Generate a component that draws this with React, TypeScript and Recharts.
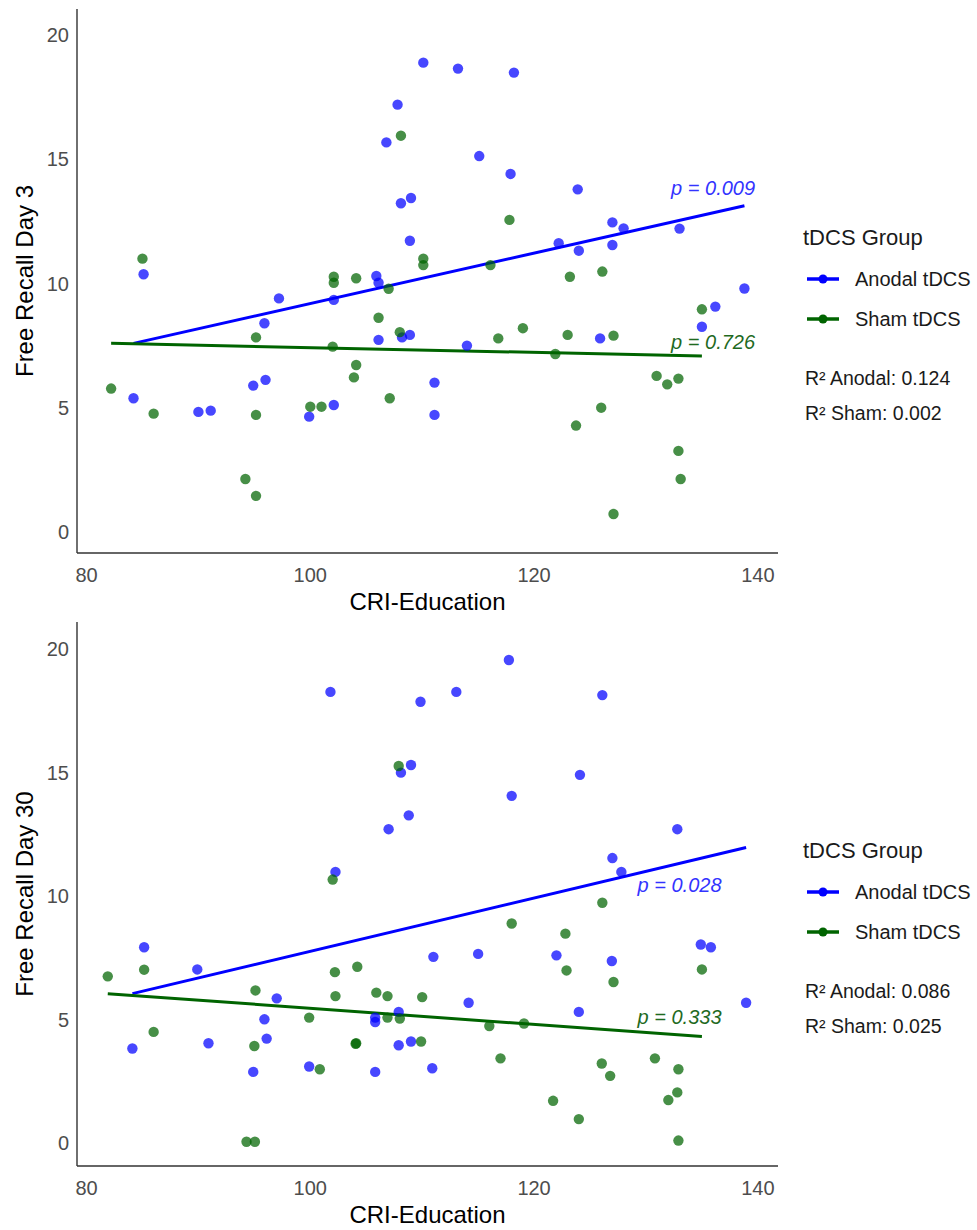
import React from 'react';
import { ComposedChart, Legend, Line, ReferenceDot, Scatter, XAxis, YAxis } from 'recharts';

// [CRI-Education, Free recall] pairs
const ANODAL_DAY3: [number, number][] = [
  [84.2, 5.38], [85.1, 10.37], [90.0, 4.83], [91.1, 4.88], [94.9, 5.89], [96.0, 6.12], [95.9, 8.4],
  [97.2, 9.4], [99.9, 4.64], [102.1, 5.11], [102.1, 9.34], [105.9, 10.3], [106.1, 10.03], [106.1, 7.73],
  [106.8, 15.68], [107.8, 17.2], [108.1, 13.23], [109.0, 13.44], [108.9, 11.72], [108.2, 7.83],
  [108.9, 7.93], [110.1, 18.89], [111.1, 6.01], [111.1, 4.71], [113.2, 18.65], [114.0, 7.5],
  [115.1, 15.13], [117.9, 14.41], [118.2, 18.49], [122.2, 11.62], [123.9, 13.79], [124.0, 11.32],
  [125.9, 7.79], [127.0, 12.46], [127.0, 11.55], [128.0, 12.22], [133.0, 12.21], [135.0, 8.26],
  [136.2, 9.07], [138.8, 9.8]
];

const SHAM_DAY3: [number, number][] = [
  [82.2, 5.77], [85.0, 11.0], [86.0, 4.76], [94.2, 2.13], [95.15, 1.45], [95.15, 4.71], [95.15, 7.83],
  [100.0, 5.04], [101.0, 5.04], [102.0, 7.46], [102.1, 10.27], [102.1, 10.03], [104.1, 10.21],
  [103.9, 6.22], [104.1, 6.72], [106.1, 8.62], [107.0, 9.79], [107.1, 5.38], [108.0, 8.04],
  [108.1, 15.95], [110.1, 11.0], [110.1, 10.74], [116.1, 10.74], [116.8, 7.79], [117.8, 12.56],
  [119.0, 8.2], [121.9, 7.16], [123.0, 7.93], [123.2, 10.27], [123.75, 4.28], [126.0, 5.0],
  [126.1, 10.48], [127.1, 7.9], [127.1, 0.72], [130.95, 6.28], [131.9, 5.94], [132.9, 6.17],
  [132.9, 3.26], [133.1, 2.13], [135.0, 8.96]
];

const ANODAL_DAY30: [number, number][] = [
  [84.1, 3.83], [85.15, 7.93], [89.9, 7.03], [90.9, 4.04], [94.9, 2.88], [95.9, 5.01], [96.1, 4.23],
  [97.0, 5.86], [99.9, 3.1], [101.8, 18.27], [102.25, 10.98], [105.8, 5.08], [105.8, 4.9],
  [105.8, 2.88], [107.0, 12.71], [107.9, 5.31], [107.9, 3.96], [108.1, 15.0], [108.8, 13.27],
  [109.0, 15.31], [109.0, 4.11], [109.85, 17.87], [111.0, 7.54], [110.9, 3.03], [113.05, 18.27],
  [114.15, 5.68], [115.0, 7.66], [117.75, 19.56], [118.0, 14.06], [122.0, 7.6], [124.1, 14.91],
  [124.0, 5.31], [126.1, 18.14], [127.0, 11.54], [126.95, 7.37], [127.8, 10.98], [132.8, 12.71],
  [134.9, 8.04], [135.8, 7.93], [138.95, 5.68]
];

const SHAM_DAY30: [number, number][] = [
  [81.9, 6.75], [85.15, 7.02], [86.0, 4.5], [94.3, 0.05], [95.05, 0.05], [95.1, 6.18], [95.0, 3.93],
  [99.9, 5.08], [100.85, 2.99], [102.0, 10.67], [102.2, 6.92], [102.25, 5.95], [104.2, 7.14],
  [104.1, 4.04], [104.05, 4.02], [105.9, 6.09], [106.9, 5.95], [106.9, 5.08], [107.9, 15.27],
  [108.0, 5.04], [110.0, 5.91], [109.9, 4.11], [116.0, 4.74], [117.0, 3.43], [118.0, 8.89],
  [119.1, 4.84], [121.7, 1.71], [122.8, 8.48], [122.9, 6.99], [124.0, 0.97], [126.1, 9.73],
  [126.05, 3.22], [127.1, 6.52], [126.8, 2.72], [130.8, 3.43], [132.0, 1.74], [132.9, 2.99],
  [132.8, 2.05], [132.9, 0.1], [135.0, 7.03]
];

// fitted line end points
const FIT_ANODAL_DAY3: [number, number][] = [[84.2, 7.59], [138.8, 13.13]];
const FIT_SHAM_DAY3: [number, number][] = [[82.2, 7.59], [135.0, 7.08]];
const FIT_ANODAL_DAY30: [number, number][] = [[84.1, 6.05], [138.95, 11.97]];
const FIT_SHAM_DAY30: [number, number][] = [[81.9, 6.05], [135.0, 4.31]];

const X_TICKS = [80, 100, 120, 140];
const Y_TICKS = [0, 5, 10, 15, 20];

const ANODAL = '#0000ff';
const SHAM = '#006400';
const FONT = '"Liberation Sans", Arial, sans-serif';

const toPoints = (pairs: [number, number][]) => pairs.map(([x, y]) => ({ x, y }));

const dot = (color: string) => (props: any) => (
  <circle cx={props.cx} cy={props.cy} r={5.2} fill={color} fillOpacity={0.72} />
);

function LegendBox({ payload, r2Anodal, r2Sham }: any) {
  const items = (payload || []).filter((p: any) => p.type !== 'none');
  return (
    <div style={{ position: 'relative', height: 215, fontFamily: FONT, color: '#1a1a1a' }}>
      <div style={{ position: 'absolute', left: 3, top: 0, height: 30, lineHeight: '30px', fontSize: 22 }}>
        tDCS Group
      </div>
      {items.map((item: any, i: number) => (
        <div
          key={item.value}
          style={{ position: 'absolute', left: 0, top: 36 + i * 40, height: 40, display: 'flex', alignItems: 'center' }}
        >
          <svg width={50} height={14} style={{ marginLeft: 5 }}>
            <line x1={2} y1={7} x2={34} y2={7} stroke={item.color} strokeWidth={3.5} />
            <circle cx={18} cy={7} r={4.5} fill={item.color} />
          </svg>
          <span style={{ fontSize: 20 }}>{item.value}</span>
        </div>
      ))}
      <div style={{ position: 'absolute', left: 5, top: 137, height: 36, lineHeight: '36px', fontSize: 19.5 }}>
        R² Anodal: {r2Anodal}
      </div>
      <div style={{ position: 'absolute', left: 5, top: 172, height: 36, lineHeight: '36px', fontSize: 19.5 }}>
        R² Sham: {r2Sham}
      </div>
    </div>
  );
}

interface PanelProps {
  anodal: [number, number][];
  sham: [number, number][];
  anodalFit: [number, number][];
  shamFit: [number, number][];
  yLabel: string;
  yDomain: [number, number];
  pAnodal: { x: number; y: number; text: string };
  pSham: { x: number; y: number; text: string };
  r2Anodal: string;
  r2Sham: string;
}

function RecallPanel({ anodal, sham, anodalFit, shamFit, yLabel, yDomain, pAnodal, pSham, r2Anodal, r2Sham }: PanelProps) {
  return (
    <ComposedChart width={977} height={625} margin={{ top: 9, right: 199, bottom: 42, left: 0 }}>
      <XAxis
        type='number'
        dataKey='x'
        domain={[79.15, 141.8]}
        ticks={X_TICKS}
        allowDataOverflow
        height={30}
        tickLine={false}
        tickMargin={9}
        axisLine={{ stroke: '#333', strokeWidth: 1.4 }}
        tick={{ fill: '#4d4d4d', fontSize: 20, fontFamily: FONT }}
        label={{ value: 'CRI-Education', position: 'bottom', offset: 10, fill: '#000', fontSize: 24, fontFamily: FONT }}
      />
      <YAxis
        type='number'
        dataKey='y'
        width={77}
        domain={yDomain}
        ticks={Y_TICKS}
        allowDataOverflow
        tickLine={false}
        axisLine={{ stroke: '#333', strokeWidth: 1.4 }}
        tick={{ fill: '#4d4d4d', fontSize: 20, fontFamily: FONT }}
        label={{
          value: yLabel,
          angle: -90,
          position: 'insideLeft',
          offset: 24,
          fill: '#000',
          fontSize: 24,
          fontFamily: FONT,
          style: { textAnchor: 'middle' }
        }}
      />
      <Legend
        layout='vertical'
        align='center'
        verticalAlign='middle'
        wrapperStyle={{ left: 800, top: 223, right: 'auto', bottom: 'auto', width: 177 }}
        content={(props: any) => <LegendBox {...props} r2Anodal={r2Anodal} r2Sham={r2Sham} />}
      />
      <Scatter name='Anodal tDCS' data={toPoints(anodal)} fill={ANODAL} shape={dot(ANODAL)} isAnimationActive={false} />
      <Scatter name='Sham tDCS' data={toPoints(sham)} fill={SHAM} shape={dot(SHAM)} isAnimationActive={false} />
      <Line
        data={toPoints(anodalFit)}
        dataKey='y'
        type='linear'
        stroke={ANODAL}
        strokeWidth={3}
        dot={false}
        legendType='none'
        isAnimationActive={false}
      />
      <Line
        data={toPoints(shamFit)}
        dataKey='y'
        type='linear'
        stroke={SHAM}
        strokeWidth={3}
        dot={false}
        legendType='none'
        isAnimationActive={false}
      />
      <ReferenceDot
        x={pAnodal.x}
        y={pAnodal.y}
        r={0}
        fillOpacity={0}
        stroke='none'
        label={{ value: pAnodal.text, position: 'center', fill: '#3333ff', fontSize: 20, fontFamily: FONT, fontStyle: 'italic' }}
      />
      <ReferenceDot
        x={pSham.x}
        y={pSham.y}
        r={0}
        fillOpacity={0}
        stroke='none'
        label={{ value: pSham.text, position: 'center', fill: '#1f6a1f', fontSize: 20, fontFamily: FONT, fontStyle: 'italic' }}
      />
    </ComposedChart>
  );
}

export default function App() {
  return (
    <div style={{ position: 'absolute', left: 0, top: 0, width: 977, height: 1230, overflow: 'hidden', background: '#fff', fontFamily: FONT }}>
      <div style={{ position: 'absolute', left: 0, top: 0 }}>
        <RecallPanel
          anodal={ANODAL_DAY3}
          sham={SHAM_DAY3}
          anodalFit={FIT_ANODAL_DAY3}
          shamFit={FIT_SHAM_DAY3}
          yLabel='Free Recall Day 3'
          yDomain={[-0.85, 21.05]}
          pAnodal={{ x: 136, y: 13.84, text: 'p = 0.009' }}
          pSham={{ x: 136, y: 7.65, text: 'p = 0.726' }}
          r2Anodal='0.124'
          r2Sham='0.002'
        />
      </div>
      <div style={{ position: 'absolute', left: 0, top: 613 }}>
        <RecallPanel
          anodal={ANODAL_DAY30}
          sham={SHAM_DAY30}
          anodalFit={FIT_ANODAL_DAY30}
          shamFit={FIT_SHAM_DAY30}
          yLabel='Free Recall Day 30'
          yDomain={[-0.93, 21.1]}
          pAnodal={{ x: 133, y: 10.46, text: 'p = 0.028' }}
          pSham={{ x: 133, y: 5.09, text: 'p = 0.333' }}
          r2Anodal='0.086'
          r2Sham='0.025'
        />
      </div>
    </div>
  );
}
